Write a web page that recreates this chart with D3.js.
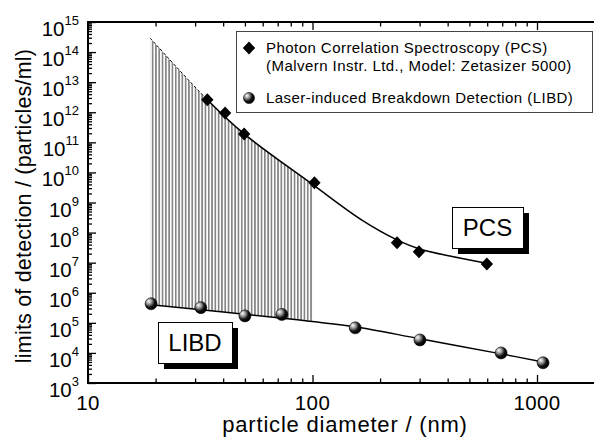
<!DOCTYPE html>
<html>
<head>
<meta charset="utf-8">
<script src="https://cdn.jsdelivr.net/npm/d3@7"></script>
<style>
  body { margin: 0; background: #fff; }
  text { font-family: Arial, "Liberation Sans", sans-serif; fill: #000; }
</style>
</head>
<body>
<svg id="chart" width="594" height="438"></svg>
<script>
// measured points (diameter in nm, limit in particles/ml)
var pcsDiam = [34, 40.8, 49.6, 102, 238, 298, 598];
var pcsLimit = [2.6e12, 9.5e11, 1.9e11, 4.5e9, 4.6e7, 2.3e7, 9.1e6];
var libdDiam = [19.1, 31.8, 50, 73, 155, 301, 692, 1064];
var libdLimit = [4.3e5, 3.2e5, 1.7e5, 1.9e5, 6.8e4, 2.7e4, 1.0e4, 4.7e3];

// fitted curves
var pcsFitDiam = [18.9, 34, 49.6, 100, 166, 238, 298, 588];
var pcsFitLimit = [2.95e14, 2.6e12, 1.9e11, 4.0e9, 2.6e8, 5.7e7, 2.9e7, 9.8e6];
var libdFitDiam = [19.1, 79.4, 100, 155, 301, 692, 1064];
var libdFitLimit = [4.0e5, 1.35e5, 1.1e5, 7.4e4, 2.95e4, 9.3e3, 5.0e3];

var dashedUpTo = 34;   // PCS extrapolation below this diameter is dashed
var hatchFrom = 18.9, hatchTo = 100;

var xMajor = [10, 100, 1000];
var xTickLabels = ["10", "100", "1000"];
var yExps = [3, 4, 5, 6, 7, 8, 9, 10, 11, 12, 13, 14, 15];

var legendLines = ["Photon Correlation Spectroscopy (PCS)",
                   "(Malvern Instr. Ltd., Model: Zetasizer 5000)",
                   "Laser-induced Breakdown Detection (LIBD)"];

var W = 594, H = 438;
var svg = d3.select("#chart");

var x = d3.scaleLog().domain([10, 1000]).range([88, 537]);
var y = d3.scaleLog().domain([1e3, 1e15]).range([383, 22]);

var defs = svg.append("defs");
var pat = defs.append("pattern")
  .attr("id", "hatch").attr("patternUnits", "userSpaceOnUse")
  .attr("width", 3.3).attr("height", 10);
pat.append("rect").attr("x", 0).attr("y", 0).attr("width", 1.7).attr("height", 10).attr("fill", "#858585");

var grad = defs.append("radialGradient").attr("id", "ball")
  .attr("cx", "35%").attr("cy", "35%").attr("r", "65%").attr("fx", "30%").attr("fy", "28%");
grad.append("stop").attr("offset", "0%").attr("stop-color", "#fff");
grad.append("stop").attr("offset", "35%").attr("stop-color", "#999");
grad.append("stop").attr("offset", "70%").attr("stop-color", "#111");
grad.append("stop").attr("offset", "100%").attr("stop-color", "#000");

function zipPts(ds, vs) {
  return ds.map(function(d, i) { return [d, vs[i]]; });
}
var pcsFit = zipPts(pcsFitDiam, pcsFitLimit);
var libdFit = zipPts(libdFitDiam, libdFitLimit);

var line = d3.line()
  .x(function(p) { return x(p[0]); })
  .y(function(p) { return y(p[1]); })
  .curve(d3.curveCatmullRom);

// hatched region between the two curves
var topPts = pcsFit.filter(function(p) { return p[0] >= hatchFrom && p[0] <= hatchTo; });
var botPts = libdFit.filter(function(p) { return p[0] <= hatchTo; }).reverse();
botPts[botPts.length - 1] = [hatchFrom, libdFitLimit[0]];
var hatchPath = line(topPts) + "L" + line(botPts).slice(1) + "Z";
svg.append("path").attr("d", hatchPath).attr("fill", "url(#hatch)");

// curves
defs.append("clipPath").attr("id", "clipDash").append("rect")
  .attr("x", 0).attr("y", 0).attr("width", x(dashedUpTo)).attr("height", H);
defs.append("clipPath").attr("id", "clipSolid").append("rect")
  .attr("x", x(dashedUpTo)).attr("y", 0).attr("width", W).attr("height", H);

svg.append("path").attr("d", line(pcsFit)).attr("fill", "none")
  .attr("stroke", "#000").attr("stroke-width", 1).attr("stroke-dasharray", "3,2")
  .attr("clip-path", "url(#clipDash)");
svg.append("path").attr("d", line(pcsFit)).attr("fill", "none")
  .attr("stroke", "#000").attr("stroke-width", 1.5)
  .attr("clip-path", "url(#clipSolid)");
svg.append("path").attr("d", line(libdFit)).attr("fill", "none")
  .attr("stroke", "#000").attr("stroke-width", 1.5);

// markers
var diamond = "M0,-6.5L6.2,0L0,6.5L-6.2,0Z";
svg.selectAll(".pcs").data(zipPts(pcsDiam, pcsLimit)).enter().append("path")
  .attr("class", "pcs").attr("d", diamond)
  .attr("transform", function(p) { return "translate(" + x(p[0]) + "," + y(p[1]) + ")"; })
  .attr("fill", "#000");
svg.selectAll(".libd").data(zipPts(libdDiam, libdLimit)).enter().append("circle")
  .attr("class", "libd")
  .attr("cx", function(p) { return x(p[0]); })
  .attr("cy", function(p) { return y(p[1]); })
  .attr("r", 6).attr("fill", "url(#ball)").attr("stroke", "#000").attr("stroke-width", 0.6);

// axes
var xMinor = [];
[10, 100, 1000].forEach(function(b) {
  d3.range(2, 10).forEach(function(m) { xMinor.push(b * m); });
});
xMinor = xMinor.filter(function(v) { return x(v) < W; });
var yMinor = [];
yExps.slice(0, -1).forEach(function(e) {
  d3.range(2, 10).forEach(function(m) { yMinor.push(m * Math.pow(10, e)); });
});
var yMajor = yExps.map(function(e) { return Math.pow(10, e); });

function tickGroup(axis) {
  var g = svg.append("g").call(axis);
  g.select(".domain").remove();
  g.selectAll("line").attr("stroke", "#000").attr("stroke-width", 1.3);
  g.selectAll("text").remove();
  return g;
}
tickGroup(d3.axisBottom(x).tickValues(xMajor).tickSize(-8)).attr("transform", "translate(0,383)");
tickGroup(d3.axisBottom(x).tickValues(xMinor).tickSize(-4.5)).attr("transform", "translate(0,383)");
tickGroup(d3.axisTop(x).tickValues(xMajor).tickSize(-8)).attr("transform", "translate(0,22)");
tickGroup(d3.axisTop(x).tickValues(xMinor).tickSize(-4.5)).attr("transform", "translate(0,22)");
tickGroup(d3.axisLeft(y).tickValues(yMajor).tickSize(-8)).attr("transform", "translate(88,0)");
tickGroup(d3.axisLeft(y).tickValues(yMinor).tickSize(-4)).attr("transform", "translate(88,0)");

svg.append("line").attr("x1", 88).attr("x2", W).attr("y1", 383).attr("y2", 383)
  .attr("stroke", "#000").attr("stroke-width", 2);
svg.append("line").attr("x1", 88).attr("x2", W).attr("y1", 22).attr("y2", 22)
  .attr("stroke", "#000").attr("stroke-width", 2);
svg.append("line").attr("x1", 88).attr("x2", 88).attr("y1", 21).attr("y2", 384)
  .attr("stroke", "#000").attr("stroke-width", 2);

// tick labels
svg.selectAll(".xl").data(xMajor).enter().append("text")
  .attr("x", function(v) { return x(v); }).attr("y", 410)
  .attr("text-anchor", "middle").attr("font-size", 20.5).attr("letter-spacing", 0.4)
  .text(function(v, i) { return xTickLabels[i]; });

var yl = svg.selectAll(".yl").data(yExps).enter().append("text")
  .attr("x", 79).attr("y", function(e) { return y(Math.pow(10, e)) + 14; })
  .attr("text-anchor", "end").attr("font-size", 20.5);
yl.append("tspan").text("10");
yl.append("tspan").attr("dy", -11).attr("font-size", 13).text(function(e) { return e; });

// axis titles
svg.append("text").attr("transform", "translate(31,206) rotate(-90)")
  .attr("text-anchor", "middle").attr("font-size", 21.5).attr("letter-spacing", 0.2)
  .text("limits of detection / (particles/ml)");
svg.append("text").attr("x", 345).attr("y", 432)
  .attr("text-anchor", "middle").attr("font-size", 22).attr("letter-spacing", 0.8)
  .text("particle diameter / (nm)");

// legend
svg.append("rect").attr("x", 236.5).attr("y", 31.5).attr("width", 356).attr("height", 81)
  .attr("fill", "#fff").attr("stroke", "#444").attr("stroke-width", 1);
svg.append("path").attr("d", diamond).attr("transform", "translate(249,48)").attr("fill", "#000");
svg.append("circle").attr("cx", 249).attr("cy", 98).attr("r", 5.5)
  .attr("fill", "url(#ball)").attr("stroke", "#000").attr("stroke-width", 0.6);
svg.selectAll(".lg").data(legendLines).enter().append("text")
  .attr("x", 266).attr("y", function(d, i) { return [53, 71, 103][i]; })
  .attr("font-size", 15).attr("letter-spacing", 0.45).text(function(d) { return d; });

// boxed labels with drop shadow
function boxLabel(bx, by, bw, bh, label) {
  svg.append("rect").attr("x", bx + 6).attr("y", by + 6).attr("width", bw).attr("height", bh).attr("fill", "#000");
  svg.append("rect").attr("x", bx + 0.5).attr("y", by + 0.5).attr("width", bw).attr("height", bh)
    .attr("fill", "#fff").attr("stroke", "#000").attr("stroke-width", 1);
  svg.append("text").attr("x", bx + bw / 2).attr("y", by + bh / 2 + 8.5)
    .attr("text-anchor", "middle").attr("font-size", 24).text(label);
}
boxLabel(452, 207, 71, 41, "PCS");
boxLabel(158, 322, 74, 41, "LIBD");
</script>
</body>
</html>
